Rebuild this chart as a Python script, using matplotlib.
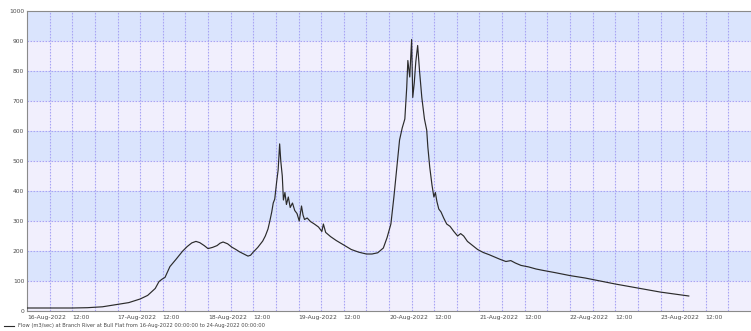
import matplotlib
matplotlib.use("Agg")
import matplotlib.pyplot as plt
from matplotlib.lines import Line2D

# Hours since 16-Aug-2022 00:00 and flow (m3/sec) at Branch River at Bull Flat
hours = [0, 6, 12, 16, 20, 24, 27, 30, 32, 34, 35, 35.8, 36.6, 37.9, 39.5, 41.3,
         42.5, 43.7, 44.8, 45.8, 47, 48, 49.2, 50.4, 51.2, 52, 53.2, 54.3, 55.4,
         56.4, 57.5, 58.6, 59.3, 59.9, 61.2, 62.5, 63.2, 63.9, 64.4, 64.9, 65.3,
         65.7, 66.2, 66.6, 67.0, 67.3, 67.7, 68.0, 68.4, 68.8, 69.3, 69.8, 70.4,
         71.0, 71.6, 72.2, 72.8, 73.2, 73.6, 74.3, 75.2, 76.2, 77.3, 78.2, 78.6,
         79.2, 80.5, 82, 84, 86, 88, 90, 91.5, 93, 94.5, 95.5, 96.5, 97.3, 98,
         98.8, 99.5, 100.2, 100.7, 101, 101.5, 102, 102.3, 102.7, 103.1, 103.6,
         104.1, 104.7, 105.4, 106, 106.3, 106.8, 107.4, 107.9, 108.3, 108.7,
         109.2, 109.8, 110.5, 111.3, 112.2, 113.2, 114.2, 115, 115.8, 116.8, 118,
         119.5, 121, 122.5, 124, 125.5, 127, 128.3, 129.5, 131, 133, 135, 137,
         140, 144, 148, 152, 156, 160, 164, 168, 172, 175.5]
flow = [10, 10, 10, 11, 14, 22, 28, 40, 52, 75, 98, 106, 112, 148, 172, 200,
        215, 227, 232, 228, 218, 208, 212, 218, 226, 230, 224, 213, 205,
        197, 190, 183, 186, 195, 212, 233, 250, 273, 300, 330, 360,
        373, 430, 470, 557, 500, 450, 370, 395, 355, 380, 345, 360,
        335, 325, 300, 350, 320, 305, 310, 298, 290, 280, 265, 290,
        262, 248, 235, 220, 205, 196, 190, 190, 194, 210, 245, 290, 380, 470,
        570, 610, 640, 745, 835, 780, 905, 712, 760, 830, 885,
        800, 712, 640, 603, 547, 480, 420, 380, 395, 365,
        340, 330, 310, 290, 282, 265, 250, 258, 250, 232, 220,
        205, 195, 188, 180, 172, 165, 168, 160, 152, 147, 140, 135,
        128, 118, 110, 100, 90, 81, 72, 63, 56, 50]

tick_hours = list(range(0, 192, 12))
tick_labels = []
for day in range(16, 24):
    tick_labels += [f"{day}-Aug-2022", "12:00"]
y_ticks = list(range(0, 1001, 100))

legend_text = ("Flow (m3/sec) at Branch River at Bull Flat from "
               "16-Aug-2022 00:00:00 to 24-Aug-2022 00:00:00")

W, H = 751, 331
fig = plt.figure(figsize=(W / 100, H / 100), dpi=100)
fig.patch.set_facecolor("white")
ax = fig.add_axes([27 / W, (H - 311) / H, (W - 27) / W, 300 / H])

band_blue = "#dae4fd"
band_light = "#f1effd"
grid_col = "#a9a5f4"
txt_col = "#4a4a4a"

for i, lo in enumerate(y_ticks[:-1]):
    ax.axhspan(lo, lo + 100, color=band_blue if i % 2 else band_light, lw=0, zorder=0)

for h in range(6, 192, 6):
    ax.axvline(h, color=grid_col, lw=0.8, ls=(0, (1.5, 1.2)), zorder=1)
for v in y_ticks[1:-1]:
    ax.axhline(v, color=grid_col, lw=0.8, ls=(0, (1.5, 1.2)), zorder=1)

ax.plot(hours, flow, color="#2b2b2b", lw=0.85, zorder=3)

ax.set_xlim(0, 192)
ax.set_ylim(0, 1000)
ax.set_xticks(tick_hours)
ax.set_xticklabels(tick_labels, ha="left", fontsize=4.3, color=txt_col)
ax.set_yticks(y_ticks)
ax.set_yticklabels([str(v) for v in y_ticks], fontsize=4.3, color=txt_col)
ax.tick_params(axis="both", length=0, pad=2)
ax.tick_params(axis="x", pad=3)

for side in ["top", "left", "bottom"]:
    ax.spines[side].set_color("#8a8a8a")
    ax.spines[side].set_linewidth(0.8)
ax.spines["right"].set_visible(False)

# legend entry below the axis
fig.add_artist(Line2D([4 / W, 14 / W], [(H - 325.5) / H] * 2, color="#2b2b2b", lw=0.8))
fig.text(18 / W, (H - 325.5) / H, legend_text, fontsize=3.7, color=txt_col, va="center", ha="left")

fig.savefig("out.png", dpi=100)
